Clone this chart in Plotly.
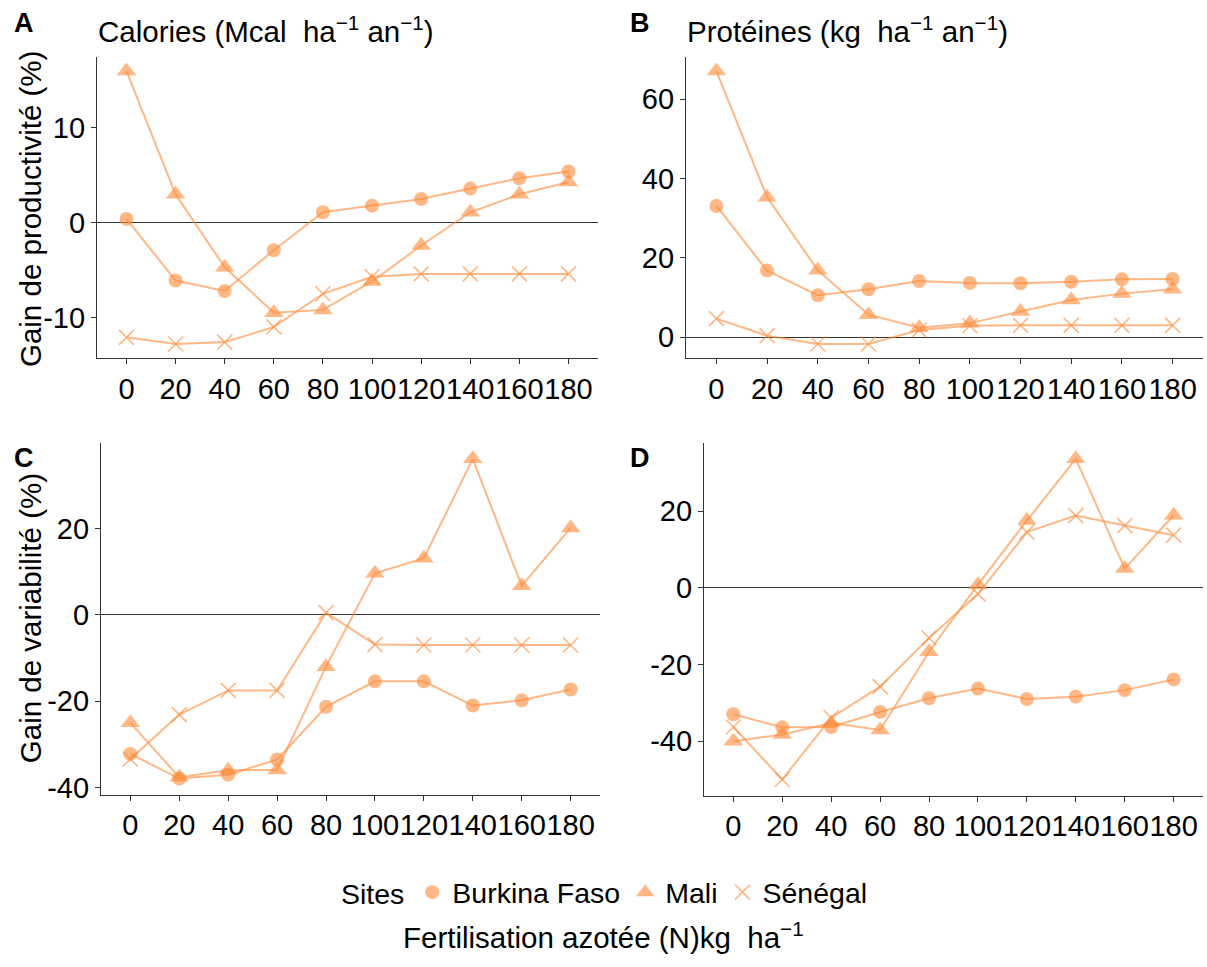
import plotly.graph_objects as go

# ---------------- data ----------------
doses = ["0", "20", "40", "60", "80", "100", "120", "140", "160", "180"]
sites = ["Burkina Faso", "Mali", "Sénégal"]

# A : Calories - gain de productivité (%)
cal_bf = [0.4, -6.1, -7.2, -2.9, 1.1, 1.8, 2.5, 3.6, 4.7, 5.4]
cal_ml = [16.0, 3.0, -4.7, -9.5, -9.2, -6.2, -2.4, 1.1, 3.0, 4.3]
cal_sn = [-12.1, -12.8, -12.6, -11.0, -7.5, -5.7, -5.4, -5.4, -5.4, -5.4]

# B : Protéines - gain de productivité (%)
pro_bf = [33.1, 16.8, 10.6, 12.1, 14.2, 13.7, 13.6, 14.0, 14.6, 14.7]
pro_ml = [67.1, 35.3, 16.9, 5.7, 2.4, 3.5, 6.5, 9.4, 11.0, 12.1]
pro_sn = [4.7, 0.4, -1.7, -1.7, 1.8, 2.9, 3.0, 3.0, 3.0, 3.0]

# C : Calories - gain de variabilité (%)
vcal_bf = [-32.2, -37.9, -37.0, -33.5, -21.3, -15.4, -15.4, -21.0, -19.8, -17.3]
vcal_ml = [-25.0, -37.6, -36.0, -35.9, -12.0, 9.6, 13.1, 36.1, 6.7, 20.1]
vcal_sn = [-33.4, -23.1, -17.5, -17.5, 0.5, -6.9, -7.0, -7.0, -7.0, -7.0]

# D : Protéines - gain de variabilité (%)
vpro_bf = [-33.0, -36.4, -36.3, -32.4, -28.8, -26.3, -29.0, -28.4, -26.7, -23.9]
vpro_ml = [-40.0, -38.3, -35.3, -37.1, -16.7, 0.8, 17.5, 33.6, 5.0, 18.9]
vpro_sn = [-36.3, -50.0, -33.9, -25.8, -13.1, -1.6, 14.5, 18.8, 16.2, 13.7]

panels = [
    ("A", "Calories (Mcal\u00a0\u00a0ha<sup>\u22121</sup> an<sup>\u22121</sup>)", [cal_bf, cal_ml, cal_sn], [-10, 0, 10]),
    ("B", "Protéines (kg\u00a0\u00a0ha<sup>\u22121</sup> an<sup>\u22121</sup>)", [pro_bf, pro_ml, pro_sn], [0, 20, 40, 60]),
    ("C", None, [vcal_bf, vcal_ml, vcal_sn], [-40, -20, 0, 20]),
    ("D", None, [vpro_bf, vpro_ml, vpro_sn], [-40, -20, 0, 20]),
]

# ---------------- styling ----------------
W, H = 1207, 967
FONT = "Liberation Sans, Arial, sans-serif"
LINE_COL = "rgba(253,141,60,0.62)"
MARK_COL = "rgba(253,141,60,0.62)"
symbols = ["circle", "triangle-up", "x-thin"]
sizes = [14, 17, 15]
TXT = 29.5
TICK = 29
LEG = 28.5

# panel pixel boxes: (left, right, top, bottom)
boxes = [
    (97, 598, 58, 361),
    (686, 1203, 58, 361),
    (101, 600, 447, 802),
    (704, 1203, 447, 803),
]


def px_x(v):
    return v / W


def px_y(v):
    return 1 - v / H


fig = go.Figure()
layout = dict(
    width=W, height=H,
    margin=dict(l=0, r=0, t=0, b=0),
    paper_bgcolor="white", plot_bgcolor="white",
    font=dict(family=FONT, color="black", size=TICK),
    showlegend=True,
)
annotations = []

for i, (lab, title, series, tv) in enumerate(panels):
    n = i + 1
    xa = "x" if n == 1 else f"x{n}"
    ya = "y" if n == 1 else f"y{n}"
    l, r, t, b = boxes[i]
    allv = [v for s in series for v in s]
    lo, hi = min(allv), max(allv)
    pad = 0.05 * (hi - lo)

    for k, s in enumerate(series):
        # line
        fig.add_trace(go.Scatter(
            x=doses, y=s, mode="lines", xaxis=xa, yaxis=ya,
            line=dict(color=LINE_COL, width=2),
            showlegend=False, hoverinfo="skip",
        ))
        # points
        mk = dict(symbol=symbols[k], size=sizes[k], color=MARK_COL)
        if symbols[k] == "x-thin":
            mk["line"] = dict(color=MARK_COL, width=1.6)
        else:
            mk["line"] = dict(width=0)
        fig.add_trace(go.Scatter(
            x=doses, y=s, mode="markers", xaxis=xa, yaxis=ya,
            marker=mk, name=sites[k], legendgroup=sites[k],
            showlegend=(i == 0),
        ))

    axis_common = dict(
        showline=True, linecolor="#333333", linewidth=1.2,
        ticks="outside", ticklen=5, tickcolor="#333333", tickwidth=1.2,
        showgrid=False, tickfont=dict(size=TICK, family=FONT, color="black"),
    )
    layout["xaxis" if n == 1 else f"xaxis{n}"] = dict(
        axis_common, domain=[px_x(l), px_x(r)], anchor=ya,
        type="category", categoryorder="array", categoryarray=doses,
        range=[-0.6, len(doses) - 0.4], zeroline=False, tickangle=0,
    )
    layout["yaxis" if n == 1 else f"yaxis{n}"] = dict(
        axis_common, domain=[px_y(b), px_y(t)], anchor=xa,
        range=[lo - pad, hi + pad],
        tickvals=tv, ticktext=[str(v) for v in tv],
        zeroline=True, zerolinecolor="#333333", zerolinewidth=1.2,
    )

    # panel letter
    lx = 12 if i % 2 == 0 else 628
    ly = 23 if i < 2 else 462
    annotations.append(dict(
        text=f"<b>{lab}</b>", x=px_x(lx), y=px_y(ly), xref="paper", yref="paper",
        xanchor="left", yanchor="middle", showarrow=False,
        font=dict(size=27, family=FONT, color="black"),
    ))
    if title:
        annotations.append(dict(
            text=title, x=px_x(l - 1), y=px_y(30), xref="paper", yref="paper",
            xanchor="left", yanchor="middle", showarrow=False,
            font=dict(size=TXT, family=FONT, color="black"),
        ))

# y axis titles
annotations.append(dict(
    text="Gain de productivité (%)", x=px_x(30), y=px_y(211), xref="paper", yref="paper",
    xanchor="center", yanchor="middle", textangle=-90, showarrow=False,
    font=dict(size=TXT, family=FONT, color="black"),
))
annotations.append(dict(
    text="Gain de variabilité (%)", x=px_x(30), y=px_y(624), xref="paper", yref="paper",
    xanchor="center", yanchor="middle", textangle=-90, showarrow=False,
    font=dict(size=TXT, family=FONT, color="black"),
))
# x axis title
annotations.append(dict(
    text="Fertilisation azotée (N)kg\u00a0\u00a0ha<sup>\u22121</sup>", x=0.5, y=px_y(944),
    xref="paper", yref="paper", xanchor="center", yanchor="middle", showarrow=False,
    font=dict(size=TXT, family=FONT, color="black"),
))

layout["annotations"] = annotations
layout["legend"] = dict(
    orientation="h", x=0.502, xanchor="center", y=px_y(901), yanchor="middle",
    title=dict(text="Sites", font=dict(size=LEG, family=FONT)),
    font=dict(size=LEG, family=FONT, color="black"),
    itemwidth=30, tracegroupgap=0, bgcolor="rgba(0,0,0,0)",
)
fig.update_layout(**layout)
fig.write_html("out.html")
